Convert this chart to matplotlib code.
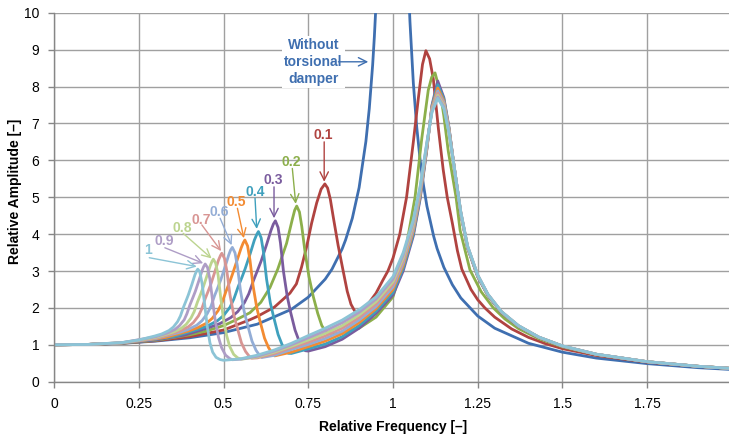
import matplotlib.pyplot as plt

plt.rcParams["font.family"] = ["Liberation Sans", "DejaVu Sans"]

# values (relative frequency -> relative amplitude)
no_damper_x = [0, 0.1, 0.2, 0.3, 0.4, 0.5, 0.6, 0.7, 0.75, 0.8, 0.82, 0.85, 0.86, 0.88, 0.9, 0.92,
               0.93, 0.94, 0.945, 0.95, 0.96, 1.04, 1.045, 1.05, 1.06, 1.07, 1.08, 1.09, 1.1, 1.12,
               1.13, 1.15, 1.175, 1.2, 1.25, 1.3, 1.4, 1.5, 1.6, 1.75, 1.9, 2.0]
no_damper_y = [1.0, 1.01, 1.04, 1.10, 1.19, 1.33, 1.56, 1.96, 2.29, 2.78, 3.05, 3.60, 3.84, 4.43, 5.26, 6.51,
               7.40, 8.59, 9.35, 10.26, 12.76, 12.25, 10.87, 9.76, 8.09, 6.90, 6.01, 5.32, 4.76, 3.94,
               3.61, 3.10, 2.63, 2.27, 1.78, 1.45, 1.04, 0.80, 0.64, 0.49, 0.38, 0.33]

d01_x = [0, 0.1, 0.2, 0.3, 0.4, 0.5, 0.578, 0.6, 0.65, 0.696, 0.715, 0.73, 0.745, 0.76, 0.775, 0.788,
         0.799, 0.807, 0.815, 0.824, 0.838, 0.853, 0.865, 0.876, 0.886, 0.893, 0.91, 0.93, 0.95, 0.97,
         0.985, 1.0, 1.02, 1.04, 1.06, 1.075, 1.087, 1.097, 1.108, 1.119, 1.134, 1.148, 1.16, 1.175,
         1.19, 1.203, 1.23, 1.25, 1.271, 1.3, 1.35, 1.4, 1.45, 1.5, 1.6, 1.75, 1.9, 2.0]
d01_y = [1.0, 1.01, 1.043, 1.11, 1.22, 1.40, 1.68, 1.77, 2.02, 2.40, 2.65, 3.1, 3.65, 4.3, 4.85, 5.22,
         5.36, 5.25, 4.95, 4.45, 3.7, 3.0, 2.45, 2.1, 1.93, 1.88, 1.95, 2.15, 2.4, 2.75,
         3.0, 3.35, 4.0, 5.0, 6.5, 7.7, 8.6, 8.97, 8.75, 8.2, 6.85, 5.75, 5.0, 4.3,
         3.55, 3.05, 2.5, 2.22, 2.0, 1.75, 1.43, 1.2, 1.03, 0.895, 0.71, 0.528, 0.413, 0.358]

d02_x = [0, 0.1, 0.2, 0.3, 0.4, 0.45, 0.5, 0.54, 0.578, 0.61, 0.637, 0.66, 0.686, 0.703, 0.71, 0.716,
         0.724, 0.731, 0.74, 0.752, 0.765, 0.778, 0.79, 0.80, 0.812, 0.83, 0.85, 0.9, 0.95, 1.0, 1.03,
         1.065, 1.085, 1.104, 1.114, 1.124, 1.139, 1.15, 1.163, 1.175, 1.186, 1.198, 1.227, 1.26,
         1.296, 1.33, 1.37, 1.43, 1.5, 1.6, 1.75, 1.9, 2.0]
d02_y = [1.0, 1.01, 1.044, 1.12, 1.27, 1.375, 1.52, 1.69, 1.87, 2.15, 2.55, 3.05, 3.75, 4.4, 4.65, 4.76,
         4.6, 4.2, 3.55, 2.85, 2.3, 1.85, 1.52, 1.38, 1.32, 1.30, 1.33, 1.45, 1.75, 2.3, 3.2,
         5.0, 6.6, 7.9, 8.25, 8.37, 7.85, 7.2, 6.25, 5.6, 5.0, 4.1, 3.03, 2.44,
         2.0, 1.70, 1.44, 1.166, 0.944, 0.734, 0.539, 0.418, 0.358]

d03_x = [0, 0.1, 0.2, 0.3, 0.385, 0.457, 0.490, 0.522, 0.542, 0.5616, 0.5746, 0.588, 0.6008, 0.611,
         0.627, 0.640, 0.647, 0.653, 0.661, 0.668, 0.677, 0.688, 0.698, 0.711, 0.723, 0.733, 0.741,
         0.75, 0.8, 0.85, 0.9, 0.95, 1.0, 1.03, 1.06, 1.08, 1.1, 1.115, 1.132, 1.15, 1.165, 1.18,
         1.2, 1.22, 1.25, 1.28, 1.32, 1.37, 1.43, 1.5, 1.6, 1.75, 1.9, 2.0]
d03_y = [1.0, 1.01, 1.046, 1.13, 1.263, 1.465, 1.578, 1.741, 1.90, 2.141, 2.383, 2.732, 3.029, 3.27,
         3.715, 4.10, 4.27, 4.36, 4.18, 3.76, 2.98, 2.31, 1.88, 1.40, 1.10, 0.93, 0.84,
         0.83, 0.95, 1.15, 1.45, 1.85, 2.35, 3.0, 3.95, 4.95, 6.3, 7.5, 8.15, 7.7, 6.9, 5.85,
         4.55, 3.62, 2.84, 2.33, 1.87, 1.50, 1.20, 0.96, 0.74, 0.54, 0.416, 0.357]

d04_x = [0, 0.1, 0.2, 0.3, 0.356, 0.422, 0.452, 0.482, 0.5005, 0.519, 0.5306, 0.543, 0.555, 0.564,
         0.579, 0.591, 0.598, 0.603, 0.611, 0.618, 0.627, 0.638, 0.648, 0.661, 0.673, 0.683, 0.691,
         0.7, 0.75, 0.8, 0.85, 0.9, 0.95, 1.0, 1.03, 1.06, 1.08, 1.1, 1.115, 1.132, 1.15, 1.165,
         1.18, 1.2, 1.22, 1.25, 1.28, 1.32, 1.37, 1.43, 1.5, 1.6, 1.75, 1.9, 2.0]
d04_y = [1.0, 1.01, 1.048, 1.15, 1.23, 1.41, 1.507, 1.653, 1.797, 2.018, 2.242, 2.568, 2.844, 3.066,
         3.479, 3.837, 3.99, 4.07, 3.90, 3.51, 2.78, 2.14, 1.75, 1.28, 1.0, 0.85, 0.77,
         0.765, 0.89, 1.02, 1.22, 1.52, 1.91, 2.42, 3.07, 4.01, 5.0, 6.33, 7.47, 8.05, 7.66, 6.88,
         5.85, 4.56, 3.63, 2.85, 2.34, 1.88, 1.505, 1.20, 0.962, 0.741, 0.541, 0.417, 0.358]

d05_x = [0, 0.1, 0.2, 0.3, 0.332, 0.394, 0.422, 0.450, 0.467, 0.484, 0.4954, 0.507, 0.518, 0.526,
         0.540, 0.552, 0.558, 0.563, 0.571, 0.578, 0.587, 0.598, 0.608, 0.621, 0.633, 0.643, 0.651,
         0.7, 0.75, 0.8, 0.85, 0.9, 0.95, 1.0, 1.03, 1.06, 1.08, 1.1, 1.115, 1.132, 1.15, 1.165,
         1.18, 1.2, 1.22, 1.25, 1.28, 1.32, 1.37, 1.43, 1.5, 1.6, 1.75, 1.9, 2.0]
d05_y = [1.0, 1.01, 1.05, 1.16, 1.205, 1.367, 1.455, 1.587, 1.719, 1.924, 2.133, 2.439, 2.698, 2.904,
         3.289, 3.624, 3.76, 3.84, 3.68, 3.30, 2.61, 2.01, 1.63, 1.18, 0.92, 0.78, 0.70,
         0.80, 0.95, 1.10, 1.30, 1.60, 1.98, 2.50, 3.15, 4.08, 5.05, 6.36, 7.44, 7.96, 7.61, 6.86,
         5.85, 4.57, 3.64, 2.86, 2.35, 1.885, 1.51, 1.205, 0.964, 0.742, 0.541, 0.417, 0.358]

d06_x = [0, 0.1, 0.2, 0.3, 0.368, 0.3945, 0.421, 0.4366, 0.452, 0.463, 0.4734, 0.484, 0.492, 0.505,
         0.5155, 0.521, 0.526, 0.534, 0.541, 0.550, 0.561, 0.571, 0.584, 0.596, 0.606, 0.613, 0.65,
         0.7, 0.75, 0.8, 0.85, 0.9, 0.95, 1.0, 1.03, 1.06, 1.08, 1.1, 1.115, 1.132, 1.15, 1.165,
         1.18, 1.2, 1.22, 1.25, 1.28, 1.32, 1.37, 1.43, 1.5, 1.6, 1.75, 1.9, 2.0]
d06_y = [1.0, 1.01, 1.052, 1.17, 1.331, 1.410, 1.531, 1.654, 1.844, 2.040, 2.327, 2.570, 2.763, 3.125,
         3.438, 3.57, 3.64, 3.49, 3.13, 2.47, 1.90, 1.54, 1.10, 0.85, 0.72, 0.655, 0.715,
         0.87, 1.01, 1.17, 1.37, 1.67, 2.04, 2.57, 3.22, 4.14, 5.1, 6.39, 7.41, 7.88, 7.57, 6.84,
         5.85, 4.58, 3.65, 2.87, 2.355, 1.89, 1.51, 1.205, 0.966, 0.743, 0.542, 0.418, 0.358]

d07_x = [0, 0.1, 0.2, 0.3, 0.3465, 0.371, 0.396, 0.411, 0.426, 0.4356, 0.4455, 0.4554, 0.463, 0.475,
         0.485, 0.491, 0.495, 0.503, 0.510, 0.519, 0.530, 0.540, 0.553, 0.565, 0.575, 0.583, 0.6,
         0.65, 0.7, 0.75, 0.8, 0.85, 0.9, 0.95, 1.0, 1.03, 1.06, 1.08, 1.1, 1.115, 1.132, 1.15,
         1.165, 1.18, 1.2, 1.22, 1.25, 1.28, 1.32, 1.37, 1.43, 1.5, 1.6, 1.75, 1.9, 2.0]
d07_y = [1.0, 1.01, 1.054, 1.18, 1.302, 1.376, 1.488, 1.602, 1.781, 1.967, 2.239, 2.469, 2.652, 2.994,
         3.291, 3.42, 3.48, 3.34, 2.99, 2.36, 1.82, 1.48, 1.05, 0.82, 0.70, 0.635, 0.645,
         0.76, 0.92, 1.07, 1.24, 1.45, 1.74, 2.11, 2.64, 3.29, 4.21, 5.15, 6.41, 7.39, 7.82, 7.53,
         6.81, 5.85, 4.59, 3.66, 2.88, 2.36, 1.895, 1.515, 1.207, 0.967, 0.744, 0.542, 0.418, 0.359]

d08_x = [0, 0.1, 0.2, 0.3, 0.329, 0.3525, 0.376, 0.390, 0.404, 0.4136, 0.423, 0.4324, 0.4395, 0.451,
         0.461, 0.466, 0.470, 0.477, 0.484, 0.492, 0.500, 0.509, 0.518, 0.530, 0.542, 0.553, 0.6,
         0.65, 0.7, 0.75, 0.8, 0.85, 0.9, 0.95, 1.0, 1.03, 1.06, 1.08, 1.1, 1.115, 1.132, 1.15,
         1.165, 1.18, 1.2, 1.22, 1.25, 1.28, 1.32, 1.37, 1.43, 1.5, 1.6, 1.75, 1.9, 2.0]
d08_y = [1.0, 1.01, 1.056, 1.20, 1.278, 1.346, 1.450, 1.557, 1.725, 1.901, 2.156, 2.372, 2.545, 2.867,
         3.147, 3.26, 3.32, 3.21, 2.89, 2.26, 1.69, 1.26, 0.96, 0.74, 0.645, 0.61, 0.67,
         0.80, 0.96, 1.13, 1.31, 1.52, 1.81, 2.17, 2.71, 3.36, 4.27, 5.2, 6.44, 7.36, 7.76, 7.49,
         6.79, 5.85, 4.59, 3.67, 2.885, 2.365, 1.898, 1.518, 1.208, 0.968, 0.744, 0.543, 0.418, 0.359]

d09_x = [0, 0.1, 0.2, 0.3, 0.3345, 0.357, 0.370, 0.384, 0.392, 0.401, 0.410, 0.417, 0.428, 0.437,
         0.4415, 0.446, 0.453, 0.460, 0.468, 0.476, 0.485, 0.494, 0.506, 0.518, 0.526, 0.55, 0.6,
         0.65, 0.7, 0.75, 0.8, 0.85, 0.9, 0.95, 1.0, 1.03, 1.06, 1.08, 1.1, 1.115, 1.132, 1.15,
         1.165, 1.18, 1.2, 1.22, 1.25, 1.28, 1.32, 1.37, 1.43, 1.5, 1.6, 1.75, 1.9, 2.0]
d09_y = [1.0, 1.01, 1.058, 1.22, 1.320, 1.418, 1.518, 1.677, 1.842, 2.083, 2.288, 2.452, 2.757, 3.02,
         3.12, 3.19, 3.09, 2.77, 2.18, 1.63, 1.21, 0.93, 0.72, 0.63, 0.595, 0.61, 0.69,
         0.83, 1.0, 1.19, 1.38, 1.60, 1.88, 2.24, 2.78, 3.43, 4.34, 5.25, 6.47, 7.33, 7.72, 7.45,
         6.77, 5.85, 4.6, 3.675, 2.89, 2.37, 1.90, 1.52, 1.209, 0.969, 0.745, 0.543, 0.418, 0.359]

d10_x = [0, 0.1, 0.2, 0.25, 0.297, 0.318, 0.339, 0.352, 0.3646, 0.373, 0.3816, 0.390, 0.3964, 0.407,
         0.4155, 0.42, 0.424, 0.43, 0.437, 0.445, 0.452, 0.46, 0.468, 0.478, 0.49, 0.5, 0.55, 0.6,
         0.65, 0.7, 0.75, 0.8, 0.85, 0.9, 0.95, 1.0, 1.03, 1.06, 1.08, 1.1, 1.115, 1.132, 1.15,
         1.165, 1.18, 1.2, 1.22, 1.25, 1.28, 1.32, 1.37, 1.43, 1.5, 1.6, 1.75, 1.9, 2.0]
d10_y = [1.0, 1.01, 1.06, 1.13, 1.238, 1.295, 1.386, 1.481, 1.629, 1.784, 2.013, 2.205, 2.357, 2.645,
         2.892, 2.99, 3.05, 2.98, 2.65, 2.05, 1.5, 1.05, 0.8, 0.66, 0.6, 0.58, 0.62, 0.72,
         0.86, 1.04, 1.25, 1.45, 1.67, 1.95, 2.3, 2.85, 3.5, 4.4, 5.3, 6.5, 7.3, 7.68, 7.4,
         6.75, 5.85, 4.6, 3.68, 2.89, 2.37, 1.90, 1.52, 1.21, 0.97, 0.745, 0.543, 0.418, 0.359]

labels = ["0.1", "0.2", "0.3", "0.4", "0.5", "0.6", "0.7", "0.8", "0.9", "1"]
curves = [(d01_x, d01_y), (d02_x, d02_y), (d03_x, d03_y), (d04_x, d04_y), (d05_x, d05_y),
          (d06_x, d06_y), (d07_x, d07_y), (d08_x, d08_y), (d09_x, d09_y), (d10_x, d10_y)]
colors = ["#B04340", "#8CAF4B", "#7A5C9E", "#3FA0BD", "#F38B32",
          "#93ADD6", "#D89593", "#BCD48F", "#AE9DC6", "#8CC4D6"]
no_damper_color = "#3F6FB0"

x_ticks = [0, 0.25, 0.5, 0.75, 1, 1.25, 1.5, 1.75, 2]
x_tick_labels = ["0", "0.25", "0.5", "0.75", "1", "1.25", "1.5", "1.75", "2"]
y_ticks = list(range(11))

# where the small labels sit and where their arrows point
label_text_pos = [(0.794, 6.68), (0.699, 5.96), (0.647, 5.47), (0.593, 5.15), (0.539, 4.88),
                  (0.486, 4.61), (0.433, 4.38), (0.379, 4.16), (0.325, 3.81), (0.278, 3.57)]
arrow_start = [(0.797, 6.50), (0.703, 5.78), (0.649, 5.28), (0.593, 4.97), (0.541, 4.70),
               (0.490, 4.43), (0.436, 4.25), (0.381, 4.02), (0.327, 3.63), (0.281, 3.36)]
arrow_end = [(0.797, 5.42), (0.713, 4.82), (0.649, 4.43), (0.598, 4.14), (0.560, 3.89),
             (0.524, 3.70), (0.493, 3.54), (0.465, 3.34), (0.440, 3.21), (0.421, 3.12)]

fig = plt.figure(figsize=(7.29, 4.34), dpi=100)
ax = fig.add_axes([0.0741, 0.1205, 0.930, 0.8502])

ax.plot(no_damper_x, no_damper_y, color=no_damper_color, lw=2.0, solid_joinstyle="round")
for (x, y), c in zip(curves, colors):
    ax.plot(x, y, color=c, lw=2.0, solid_joinstyle="round")

ax.set_xlim(0, 2)
ax.set_ylim(0, 10)
ax.set_xticks(x_ticks)
ax.set_xticklabels(x_tick_labels)
ax.set_yticks(y_ticks)

ax.grid(True, color="#A0A0A0", lw=1.0)
ax.set_axisbelow(True)
for side in ["top", "right"]:
    ax.spines[side].set_visible(False)
for side in ["left", "bottom"]:
    ax.spines[side].set_color("#868686")
    ax.spines[side].set_linewidth(1.0)
ax.tick_params(axis="both", direction="out", length=4, width=1, color="#868686",
               labelsize=10, labelcolor="black")
ax.tick_params(axis="x", pad=7)
ax.tick_params(axis="y", pad=6.5)

fig.text(393 / 729, 3.5 / 434, "Relative Frequency [–]", fontsize=10, fontweight="bold",
         ha="center", va="baseline")
fig.text(15 / 729, (434 - 191.5) / 434, "Relative Amplitude [–]", fontsize=10, fontweight="bold",
         ha="center", va="center", rotation=90)

for lab, c, tp, a0, a1 in zip(labels, colors, label_text_pos, arrow_start, arrow_end):
    ax.text(tp[0], tp[1], lab, color=c, fontsize=10, fontweight="bold", ha="center", va="center")
    ax.annotate("", xy=a1, xytext=a0,
                arrowprops=dict(arrowstyle="->,head_length=0.6,head_width=0.3", color=c, lw=1.0,
                                shrinkA=0, shrinkB=0))

ax.text(0.7655, 8.66, "Without\ntorsional\ndamper", color=no_damper_color, fontsize=10,
        fontweight="bold", ha="center", va="center", linespacing=1.25,
        bbox=dict(facecolor="white", edgecolor="none", pad=1.5))
ax.annotate("", xy=(0.927, 8.67), xytext=(0.839, 8.67),
            arrowprops=dict(arrowstyle="->,head_length=0.6,head_width=0.3", color=no_damper_color,
                            lw=1.0, shrinkA=0, shrinkB=0))

fig.savefig("out.png", dpi=100)
